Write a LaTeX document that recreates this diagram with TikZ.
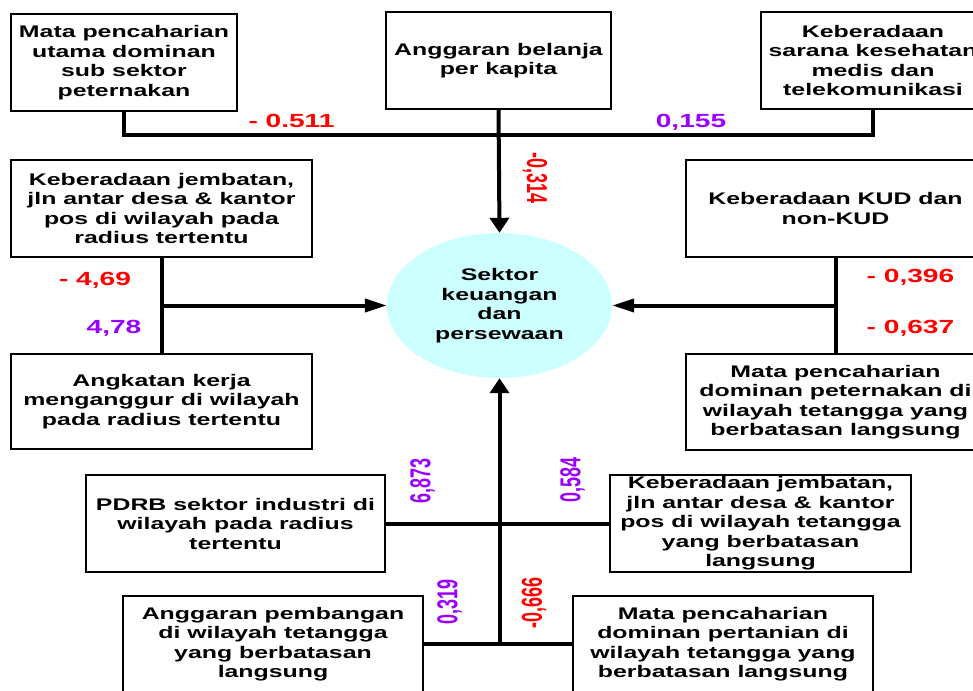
\documentclass[tikz,border=0pt]{standalone}
\usepackage{fontspec}
\setmainfont{Liberation Sans}
\newfontfamily\widefont{Liberation Sans}[FakeStretch=1.48]
\usetikzlibrary{arrows.meta,shapes.geometric}
\definecolor{numred}{HTML}{FF0000}
\definecolor{numpurple}{HTML}{9900FF}
\definecolor{sektorfill}{HTML}{CCFFFF}

\begin{document}
\begin{tikzpicture}[x=1pt,y=-1pt,
    faktor/.style={draw,line width=2pt,inner sep=0pt,align=center,
        font=\widefont\bfseries\fontsize{16.8}{19.5}\selectfont},
    link/.style={line width=4pt},
    harrow/.style={link,-{Triangle[length=22pt,width=13pt]}},
    varrow/.style={link,-{Triangle[length=15pt,width=19pt]}},
    koef/.style={font=\widefont\bfseries\fontsize{19}{19}\selectfont},
    koefrot/.style={inner sep=0pt,font=\bfseries\fontsize{18}{18}\selectfont}]
            \useasboundingbox (0,0) rectangle (973,690);

            \node[ellipse,fill=sektorfill,minimum width=225pt,minimum height=145pt,inner sep=0pt,align=center,
                font=\widefont\bfseries\fontsize{16.8}{19.5}\selectfont] (sk) at (499.5,305.5)
                {Sektor\\keuangan\\dan\\persewaan};

            \node[faktor,minimum width=226pt,minimum height=97pt] (f1) at (124,62.5)
                {Mata pencaharian\\utama dominan\\sub sektor\\peternakan};
            \node[faktor,minimum width=225pt,minimum height=97pt] (f2) at (498.5,60.5)
                {Anggaran belanja\\per kapita};
            \node[faktor,minimum width=224pt,minimum height=97pt] (f3) at (873,60.5)
                {Keberadaan\\sarana kesehatan\\medis dan\\telekomunikasi};

            \node[faktor,minimum width=301pt,minimum height=97pt] (f4) at (161.5,208.5)
                {Keberadaan jembatan,\\jln antar desa \& kantor\\pos di wilayah pada\\radius tertentu};
            \node[faktor,minimum width=301pt,minimum height=95pt] (f5) at (161.5,401.5)
                {Angkatan kerja\\menganggur di wilayah\\pada radius tertentu};

            \node[faktor,minimum width=299pt,minimum height=97pt] (f6) at (835.5,208.5)
                {Keberadaan KUD dan\\non-KUD};
            \node[faktor,minimum width=299pt,minimum height=96pt] (f7) at (835.5,402)
                {Mata pencaharian\\dominan peternakan di\\wilayah tetangga yang\\berbatasan langsung};

            \node[faktor,minimum width=299pt,minimum height=97pt] (f8) at (235.5,523.5)
                {PDRB sektor industri di\\wilayah pada radius\\tertentu};
            \node[faktor,minimum width=301pt,minimum height=97pt] (f9) at (760.5,523.5)
                {Keberadaan jembatan,\\jln antar desa \& kantor\\pos di wilayah tetangga\\yang berbatasan\\langsung};
            \node[faktor,minimum width=300pt,minimum height=96pt] (f10) at (273,644)
                {Anggaran pembangan\\di wilayah tetangga\\yang berbatasan\\langsung};
            \node[faktor,minimum width=300pt,minimum height=96pt] (f11) at (723,644)
                {Mata pencaharian\\dominan pertanian di\\wilayah tetangga yang\\berbatasan langsung};

            \coordinate (t0) at (498.5,135);
            \coordinate (l0) at (161.5,305.5);
            \coordinate (r0) at (835.5,305.5);
            \coordinate (b0) at (499.5,644);

            \draw[link] (f1.south) |- (t0) -| (f3.south);
            \draw[varrow] (f2.south) -- (sk.north);
            \draw[link] (f4.south) -- (f5.north);
            \draw[harrow] (l0) -- (sk.west);
            \draw[link] (f6.south) -- (f7.north);
            \draw[harrow] (r0) -- (sk.east);
            \draw[link] (f8.east) -- (f9.west);
            \draw[link] (f10.east) -- (f11.west);
            \draw[varrow] (b0) -- (sk.south);

            \node[koef,text=numred] (k1) at (291.5,121) {- 0.511};
            \node[koef,text=numpurple] (k2) at (691,122) {0,155};
            \node[koefrot,text=numred,rotate=-90] (k3) at (535,178) {\scalebox{1}[1.6]{-0,314}};
            \node[koef,text=numred] (k4) at (95,280) {- 4,69};
            \node[koef,text=numpurple] (k5) at (114,328) {4,78};
            \node[koef,text=numred] (k6) at (910.5,277) {- 0,396};
            \node[koef,text=numred] (k7) at (910.5,328) {- 0,637};
            \node[koefrot,text=numpurple,rotate=90] (k8) at (422.5,480.5) {\scalebox{1}[1.6]{6,873}};
            \node[koefrot,text=numpurple,rotate=90] (k9) at (572.5,480) {\scalebox{1}[1.6]{0,584}};
            \node[koefrot,text=numpurple,rotate=90] (k10) at (449.5,601.5) {\scalebox{1}[1.6]{0,319}};
            \node[koefrot,text=numred,rotate=90] (k11) at (534,602.5) {\scalebox{1}[1.6]{-0,666}};
        \end{tikzpicture}
\end{document}
